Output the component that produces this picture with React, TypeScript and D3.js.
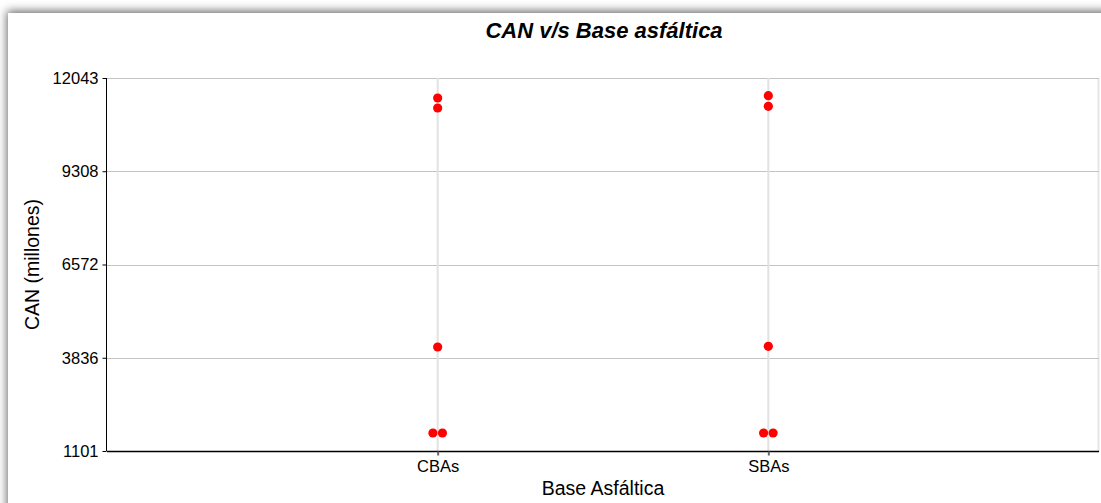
import { useRef, useEffect } from "react";
import * as d3 from "d3";

const categories = ["CBAs", "SBAs"];
const yTicks = [1101, 3836, 6572, 9308, 12043];

// CAN values (millones) per base type
const cbaValues = [11456, 11163, 4152, 1629, 1629];
const sbaValues = [11524, 11213, 4172, 1629, 1629];

const W = 1101;
const H = 503;

export default function App() {
    const svgRef = useRef<SVGSVGElement | null>(null);

    useEffect(() => {
        document.body.style.margin = "0";
        if (!svgRef.current) return;
        const svg = d3.select(svgRef.current);
        svg.selectAll("*").remove();

        const margin = { top: 78, right: 2, bottom: 52, left: 107 };
        const font = "'Liberation Sans', Arial, sans-serif";

        // frame with soft shadow
        const defs = svg.append("defs");
        const f = defs.append("filter").attr("id", "shadow").attr("x", "-5%").attr("y", "-10%").attr("width", "110%").attr("height", "120%");
        f.append("feDropShadow").attr("dx", -1).attr("dy", -2).attr("stdDeviation", 5).attr("flood-color", "#666").attr("flood-opacity", 1);
        svg.append("rect").attr("width", W).attr("height", H).attr("fill", "#fff");
        svg.append("rect")
            .attr("x", 8).attr("y", 13).attr("width", W + 20).attr("height", H + 20)
            .attr("fill", "#fff").attr("filter", "url(#shadow)");
        svg.append("line").attr("x1", 1098.5).attr("x2", 1098.5).attr("y1", 78).attr("y2", 452)
            .attr("stroke", "#e6e6e6").attr("stroke-width", 2);

        const x = d3.scalePoint<string>()
            .domain(categories)
            .range([margin.left, W - margin.right])
            .padding(1);

        const y = d3.scaleLinear()
            .domain([yTicks[0], yTicks[yTicks.length - 1]])
            .range([H - margin.bottom, margin.top]);

        // horizontal grid
        svg.append("g")
            .selectAll("line")
            .data(yTicks)
            .enter()
            .append("line")
            .attr("x1", margin.left).attr("x2", W - margin.right)
            .attr("y1", d => Math.round(y(d)) + 0.5).attr("y2", d => Math.round(y(d)) + 0.5)
            .attr("stroke", "#c4c4c4");

        // vertical grid at categories
        svg.append("g")
            .selectAll("line")
            .data(categories)
            .enter()
            .append("line")
            .attr("x1", d => x(d)!).attr("x2", d => x(d)!)
            .attr("y1", margin.top).attr("y2", H - margin.bottom)
            .attr("stroke", "#e2e2e2").attr("stroke-width", 2);

        // axes
        const yAxis = svg.append("g")
            .attr("transform", `translate(${margin.left - 0.5},0)`)
            .call(d3.axisLeft(y).tickValues(yTicks).tickSize(4).tickPadding(4).tickFormat(d => String(d)));
        yAxis.select(".domain").attr("stroke", "#000").attr("d", `M0,${margin.top}V${H - margin.bottom}`);
        yAxis.selectAll("line").attr("stroke", "#000");
        yAxis.selectAll("text").attr("font-family", font).attr("font-size", 16.5).attr("fill", "#000");

        const xAxis = svg.append("g")
            .attr("transform", `translate(0,${H - margin.bottom + 0.5})`)
            .call(d3.axisBottom(x).tickSize(4).tickPadding(5));
        xAxis.select(".domain").attr("stroke", "#000").attr("stroke-width", 1.5).attr("d", `M${margin.left},0H${W - margin.right}`);
        xAxis.selectAll("line").attr("stroke", "#666").attr("stroke-width", 2);
        xAxis.selectAll("text").attr("font-family", font).attr("font-size", 16.5).attr("fill", "#000");

        // points, identical values dodged side by side
        const pts: { cat: string; v: number; dx: number }[] = [];
        const series: [string, number[]][] = [["CBAs", cbaValues], ["SBAs", sbaValues]];
        series.forEach(([cat, vals]) => {
            const groups = d3.group(vals, v => v);
            groups.forEach((arr, v) => {
                arr.forEach((_, i) => pts.push({ cat, v, dx: (i - (arr.length - 1) / 2) * 9.5 }));
            });
        });
        svg.append("g")
            .selectAll("circle")
            .data(pts)
            .enter()
            .append("circle")
            .attr("cx", d => x(d.cat)! + d.dx)
            .attr("cy", d => y(d.v))
            .attr("r", 4.6)
            .attr("fill", "#ff0000");

        // titles
        svg.append("text")
            .attr("x", 604).attr("y", 38)
            .attr("text-anchor", "middle")
            .attr("font-family", font).attr("font-size", 22)
            .attr("font-weight", "bold").attr("font-style", "italic")
            .text("CAN v/s Base asfáltica");

        svg.append("text")
            .attr("x", 603).attr("y", 495)
            .attr("text-anchor", "middle")
            .attr("font-family", font).attr("font-size", 19.5)
            .text("Base Asfáltica");

        svg.append("text")
            .attr("transform", `translate(39,${(margin.top + H - margin.bottom) / 2}) rotate(-90)`)
            .attr("text-anchor", "middle")
            .attr("font-family", font).attr("font-size", 19.5)
            .text("CAN (millones)");
    }, []);

    return <svg ref={svgRef} width={W} height={H} style={{ display: "block" }} />;
}
